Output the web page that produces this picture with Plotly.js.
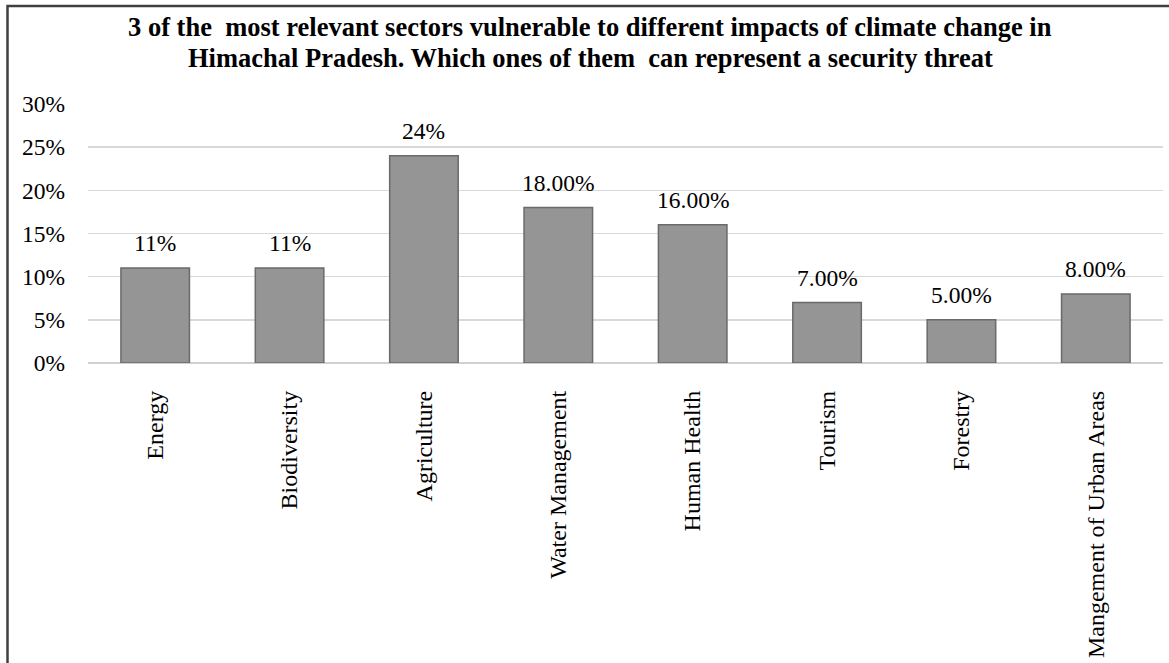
<!DOCTYPE html>
<html>
<head>
<meta charset="utf-8">
<script src="https://cdn.plot.ly/plotly-3.0.1.min.js"></script>
<style>
html,body{margin:0;padding:0;background:#fff;}
#chart{width:1169px;height:663px;}
</style>
</head>
<body>
<div id="chart"></div>
<script>
const categories = ["Energy", "Biodiversity", "Agriculture", "Water Management", "Human Health", "Tourism", "Forestry", "Mangement of Urban Areas"];
const values = [0.11, 0.11, 0.24, 0.18, 0.16, 0.07, 0.05, 0.08];
const valueLabels = ["11%", "11%", "24%", "18.00%", "16.00%", "7.00%", "5.00%", "8.00%"];
const yTickVals = [0, 0.05, 0.10, 0.15, 0.20, 0.25, 0.30];
const yTickText = ["0%", "5%", "10%", "15%", "20%", "25%", "30%"];
const titleLines = [
  "3 of the  most relevant sectors vulnerable to different impacts of climate change in",
  "Himachal Pradesh. Which ones of them  can represent a security threat"
];

const W = 1169, H = 663;
const M = {l: 88, r: 6, t: 104, b: 300};
const pw = W - M.l - M.r, ph = H - M.t - M.b;
const px = v => (v - M.l) / pw;
const py = v => (H - M.b - v) / ph;

const serif = "Liberation Serif, Times New Roman, serif";

const trace = {
  type: 'bar',
  x: categories,
  y: values,
  marker: {color: '#959595', line: {color: '#6a6a6a', width: 1.5}},
  hoverinfo: 'none'
};

const annotations = categories.map((c, i) => ({
  x: c, y: values[i], xref: 'x', yref: 'y',
  text: valueLabels[i], showarrow: false,
  yanchor: 'bottom', yshift: 10,
  font: {family: serif, size: 23.5, color: '#000'}
}));

const titleY = [27, 58];
titleLines.forEach((t, i) => annotations.push({
  x: px(590), y: py(titleY[i]), xref: 'paper', yref: 'paper',
  text: '<b>' + t + '</b>', showarrow: false, xanchor: 'center', yanchor: 'middle',
  font: {family: serif, size: 26.5, color: '#000'}
}));

const layout = {
  width: W, height: H,
  margin: M,
  paper_bgcolor: '#fff', plot_bgcolor: '#fff',
  showlegend: false,
  bargap: 0.49,
  xaxis: {
    tickangle: -90,
    tickfont: {family: serif, size: 24, color: '#000'},
    ticks: '', ticklabelstandoff: 22,
    showgrid: false, showline: false, zeroline: false
  },
  yaxis: {
    range: [0, 0.30],
    tickvals: yTickVals, ticktext: yTickText,
    tickfont: {family: serif, size: 23.5, color: '#000'},
    ticks: '', ticklabelstandoff: 22,
    showgrid: true, gridcolor: '#d9d9d9', gridwidth: 1.5,
    zeroline: true, zerolinecolor: '#d0d0d0', zerolinewidth: 1.5,
    showline: false
  },
  annotations: annotations,
  shapes: [{
    type: 'path', xref: 'paper', yref: 'paper',
    path: `M ${px(7.5)} ${py(H + 5)} L ${px(7.5)} ${py(6)} L ${px(W + 5)} ${py(6)}`,
    line: {color: '#404040', width: 2.5}
  }]
};

Plotly.newPlot('chart', [trace], layout, {displayModeBar: false, staticPlot: true});
</script>
</body>
</html>
